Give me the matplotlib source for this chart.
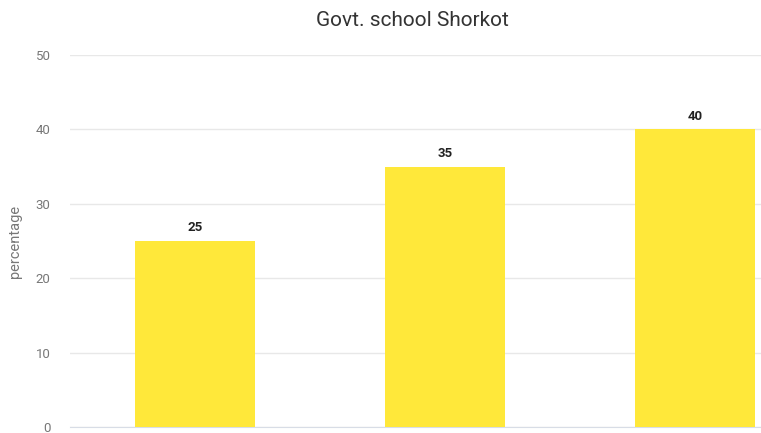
import matplotlib
matplotlib.use("Agg")
import matplotlib.pyplot as plt

plt.rcParams['font.family'] = ['Roboto', 'DejaVu Sans']

# data
values = [25, 35, 40]
y_ticks = [0, 10, 20, 30, 40, 50]
title = "Govt. school Shorkot"
y_label = "percentage"

fig = plt.figure(figsize=(7.61, 4.33), dpi=100)
# axes run past the right edge, as in the cropped reference
ax = fig.add_axes([70/761, 6/433, 750/761, 372/433])

x = list(range(len(values)))
bars = ax.bar(x, values, width=0.48, color='#FFE83A', zorder=3)

for b, v in zip(bars, values):
    ax.text(b.get_x() + b.get_width()/2, v + 0.9, str(v), ha='center', va='bottom',
            fontsize=9.5, fontweight='bold', color='#222222')

ax.set_xlim(-0.5, 2.5)
ax.set_ylim(0, 50)
ax.set_yticks(y_ticks)
ax.set_yticklabels([str(t) for t in y_ticks], color='#777777', fontsize=9.5)
ax.set_xticks([])
ax.tick_params(axis='y', length=0, pad=14)
ax.grid(axis='y', color='#e8e8e8', linewidth=1, zorder=0)
for s in ['top', 'right', 'left']:
    ax.spines[s].set_visible(False)
ax.spines['bottom'].set_color('#d8dde6')

ax.set_ylabel(y_label, color='#777777', fontsize=10.5, labelpad=10)
fig.text(412/761, 1 - 20/433, title, ha='center', va='center', fontsize=15, color='#333333')

fig.savefig('out.png', dpi=100)
